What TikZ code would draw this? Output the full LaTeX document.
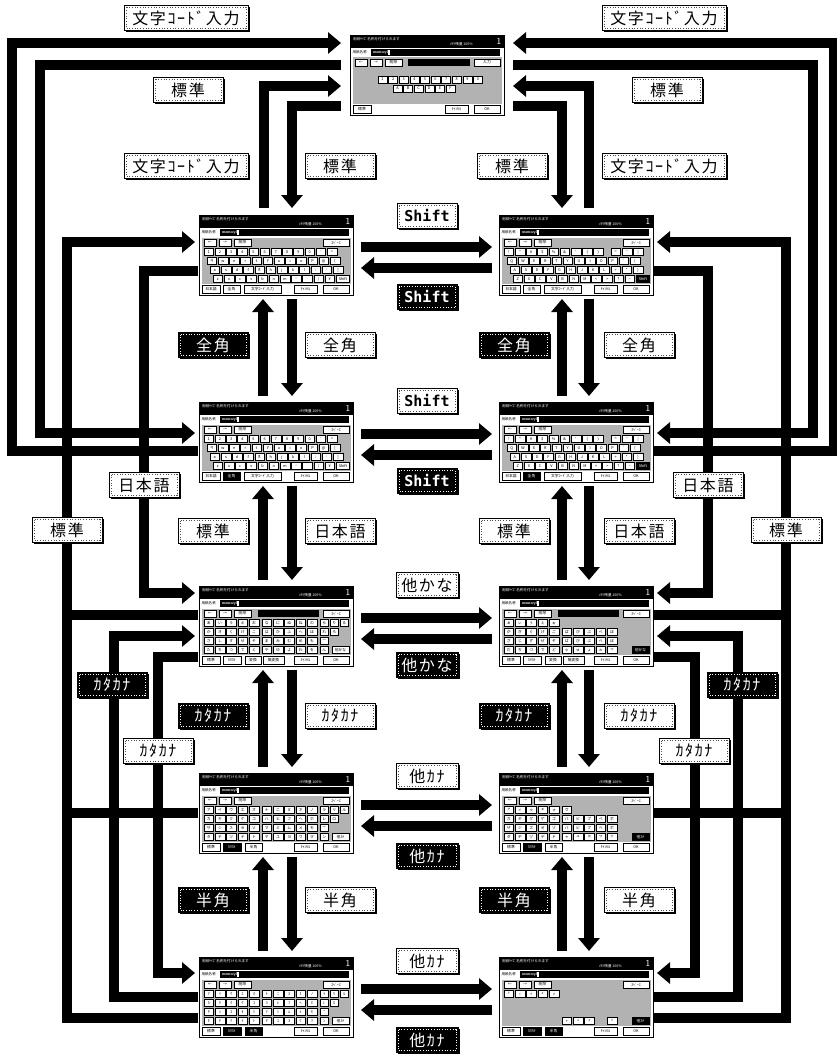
\documentclass[tikz,border=0pt]{standalone}
\usepackage{fontspec}
\newfontfamily\jp{Noto Sans CJK JP}
\newfontfamily\jpl{Noto Sans CJK JP}[LetterSpace=10]
\newfontfamily\monob{DejaVu Sans Mono}
\usetikzlibrary{arrows.meta,calc,shadows}
\newcount\autok
\tikzset{
 autoname/.style={/utils/exec={\global\advance\autok by 1}, name=n\the\autok},
 key/.style={autoname, draw=black, line width=0.4pt, fill=white, text=black, minimum width=9.5pt, minimum height=7pt, inner sep=0pt, outer sep=0pt, anchor=north west, font=\jp\fontsize{3.8}{3.8}\selectfont},
 keyb/.style={key, fill=black, text=white},
 tx/.style={autoname, inner sep=0pt, outer sep=0pt, font=\jp\fontsize{3.6}{3.6}\selectfont},
 scrbox/.style={minimum width=154pt, minimum height=80pt, inner sep=0pt, outer sep=0pt, anchor=north west},
 conn/.style={draw=black, line width=10pt, line join=miter},
 arr/.style={conn, -{Triangle[width=21pt,length=13pt]}},
 lab/.style={autoname, draw=black, line width=0.9pt, minimum width=70pt, minimum height=25pt, inner sep=0pt, font=\jpl\fontsize{16}{16}\selectfont, drop shadow={shadow xshift=1.8pt, shadow yshift=-1.8pt, opacity=1, fill=black}},
 lw/.style={lab, fill=white, text=black, path picture={\draw[dotted, line width=0.7pt, black!70] ([xshift=2pt,yshift=-2pt]path picture bounding box.north west) rectangle ([xshift=-2pt,yshift=2pt]path picture bounding box.south east);}},
 lb/.style={lab, fill=black, text=white, path picture={\draw[dotted, line width=0.7pt, white] ([xshift=2pt,yshift=-2pt]path picture bounding box.north west) rectangle ([xshift=-2pt,yshift=2pt]path picture bounding box.south east);}},
 shiftlab/.style={minimum width=60pt, font=\monob\bfseries\fontsize{15}{15}\selectfont},
}
\newcommand\krow[5][9.5]{\foreach \kk [count=\ii from 0] in {#5}{\node[key, minimum width=#1pt] at ({#3+\ii*#4},#2) {\kk};}}
\newcommand\btn[4][key]{\node[#1, minimum width=#3pt, minimum height=7.5pt] at (#2,70.5) {#4};}
\newcommand\scrframe{%
 \draw[line width=0.9pt, fill=white] (0,0) rectangle (154,80);
 \fill[black!30] (2.5,22.5) rectangle (151.5,69);
 \fill[black] (0,0) rectangle (154,13);
 \node[tx, text=white, anchor=west] at (3,4) {用紙ｻｲｽﾞ名称を付けられます};
 \node[tx, text=white, anchor=west] at (100,9.5) {ﾒﾓﾘ残量\ 100\%};
 \node[tx, text=white, font=\sffamily\fontsize{9}{9}\selectfont] at (149,6.5) {1};
 \node[tx, anchor=west] at (2.5,17.5) {用紙名称};
 \fill[black] (21,14) rectangle (150,21);
 \node[tx, text=white, anchor=west, font=\sffamily\bfseries\fontsize{3.8}{3.8}\selectfont] at (23,17.5) {memory1};
 \fill[white] (38,14.8) rectangle (40,20.2);
 \node[key, minimum width=12pt] at (5,24) {←};
 \node[key, minimum width=12pt] at (20,24) {→};
 \node[key, minimum width=17pt] at (35,24) {削除};
}
\newcommand\screen[4]{\node[scrbox, name=#1] at (#2,#3) {};\begin{scope}[shift={(#2,#3)}]\scrframe #4\end{scope}}
\newcommand\spacekey{\node[key, minimum width=26pt] at (124,24) {ｽﾍﾟｰｽ};}
\newcommand\shiftkey[1]{\node[#1, minimum width=13pt] at (137.5,60.5) {Shift};}
\newcommand\alower{%
 \krow{33.5}{5}{11.2}{1,2,3,4,5,6,7,8,9,0,-,\textasciicircum}%
 \krow{42.5}{8}{11.2}{q,w,e,r,t,y,u,i,o,p,@,{[}}%
 \krow{51.5}{11}{11.2}{a,s,d,f,g,h,j,k,l,;,:,{]}}%
 \krow{60.5}{14}{11.2}{z,x,c,v,b,n,m,{,},.,{/},¥}}
\newcommand\aupper{%
 \krow{33.5}{5}{11.2}{!,",\#,\$,\%,\&,',{(},{)}}%
 \krow{33.5}{112}{11.2}{=,\textasciitilde,|}%
 \krow{42.5}{8}{11.2}{Q,W,E,R,T,Y,U,I,O,P,`,\{}%
 \krow{51.5}{11}{11.2}{A,S,D,F,G,H,J,K,L,+,*,\}}%
 \krow{60.5}{14}{11.2}{Z,X,C,V,B,N,M,<,>,?,\_}}
\newcommand\abottom[1]{\btn{3}{18}{日本語}\btn[#1]{24}{17}{全角}\btn{45}{37}{文字ｺｰﾄﾞ入力}\btn{95}{23}{ｷｬﾝｾﾙ}\btn{124}{26}{OK}}
\newcommand\kanabottom{\btn{3}{18}{標準}\btn{24}{18}{ｶﾀｶﾅ}\btn{46}{16}{変換}\btn{64}{21}{無変換}\btn{95}{23}{ｷｬﾝｾﾙ}\btn{124}{26}{OK}}
\newcommand\katabottom[1]{\btn{3}{18}{標準}\btn[keyb]{24}{18}{ｶﾀｶﾅ}\btn[#1]{46}{17}{半角}\btn{95}{23}{ｷｬﾝｾﾙ}\btn{124}{26}{OK}}
\begin{document}
\begin{tikzpicture}[x=1pt,y=-1pt]
\useasboundingbox (0,0) rectangle (837,1054);
\clip (0,0) rectangle (837,1054);
% ---------------- screens
\screen{S0}{350}{35}{\fill[black] (58,24) rectangle (120,31); \node[key, minimum width=26pt] at (124,24) {入力};
 \krow[9]{41}{28}{10.6}{1,2,3,4,5,6,7,8,9,0}\krow[9]{50}{43}{10.6}{A,B,C,D,E,F}
 \btn{3}{18}{標準}\btn{95}{23}{ｷｬﾝｾﾙ}\btn{124}{26}{OK}}
\screen{L1}{199}{215}{\spacekey\alower\shiftkey{key}\abottom{key}}
\screen{R1}{499}{215}{\spacekey\aupper\shiftkey{keyb}\abottom{key}}
\screen{L2}{199}{402}{\spacekey\alower\shiftkey{key}\abottom{keyb}}
\screen{R2}{499}{402}{\spacekey\aupper\shiftkey{keyb}\abottom{keyb}}
\screen{L3}{199}{586}{\fill[black] (59,24) rectangle (120,31);\spacekey
 \krow{33.5}{5}{11.3}{あ,い,う,え,お}\krow{33.5}{63}{11.3}{な,に,ぬ,ね,の}\krow[8.5]{33.5}{121}{10}{ら,り,る}
 \krow{42.5}{5}{11.3}{か,き,く,け,こ}\krow{42.5}{63}{11.3}{は,ひ,ふ,へ,ほ}\krow[8.5]{42.5}{121}{10}{れ,ろ}
 \krow{51.5}{5}{11.3}{さ,し,す,せ,そ}\krow{51.5}{63}{11.3}{ま,み,む,め,も}\krow[8.5]{51.5}{121}{10}{ー}
 \krow{60.5}{5}{11.3}{た,ち,つ,て,と}\krow{60.5}{63}{11.3}{や,ゆ,よ,わ,を}\krow[8.5]{60.5}{121}{10}{ん}
 \node[key, minimum width=17pt] at (133,60.5) {他かな};\kanabottom}
\screen{R3}{499}{586}{\fill[black] (59,24) rectangle (120,31);\spacekey
 \krow{33.5}{5}{11.3}{ぁ,ぃ,ぅ,ぇ,ぉ}
 \krow{42.5}{5}{11.3}{が,ぎ,ぐ,げ,ご}\krow{42.5}{63}{11.3}{ば,び,ぶ,べ,ぼ}
 \krow{51.5}{5}{11.3}{ざ,じ,ず,ぜ,ぞ}\krow{51.5}{63}{11.3}{ぱ,ぴ,ぷ,ぺ,ぽ}
 \krow{60.5}{5}{11.3}{だ,ぢ,づ,で,ど}\krow{60.5}{63}{11.3}{ゃ,ゅ,ょ,ゎ,っ}
 \node[keyb, minimum width=17pt] at (133,60.5) {他かな};\kanabottom}
\screen{L4}{199}{773}{\spacekey
 \krow{33.5}{5}{11.3}{ア,イ,ウ,エ,オ}\krow{33.5}{63}{11.3}{ナ,ニ,ヌ,ネ,ノ}\krow[8.5]{33.5}{121}{10}{ラ,リ,ル}
 \krow{42.5}{5}{11.3}{カ,キ,ク,ケ,コ}\krow{42.5}{63}{11.3}{ハ,ヒ,フ,ヘ,ホ}\krow[8.5]{42.5}{121}{10}{レ,ロ}
 \krow{51.5}{5}{11.3}{サ,シ,ス,セ,ソ}\krow{51.5}{63}{11.3}{マ,ミ,ム,メ,モ}\krow[8.5]{51.5}{121}{10}{ー}
 \krow{60.5}{5}{11.3}{タ,チ,ツ,テ,ト}\krow{60.5}{63}{11.3}{ヤ,ユ,ヨ,ワ,ヲ}\krow[8.5]{60.5}{121}{10}{ン}
 \node[key, minimum width=17pt] at (133,60.5) {他ｶﾅ};\katabottom{key}}
\screen{R4}{499}{773}{\spacekey
 \krow{33.5}{5}{11.3}{ァ,ィ,ゥ,ェ,ォ}\krow{33.5}{63}{11.3}{ヴ}
 \krow{42.5}{5}{11.3}{ガ,ギ,グ,ゲ,ゴ}\krow{42.5}{63}{11.3}{バ,ビ,ブ,ベ,ボ}
 \krow{51.5}{5}{11.3}{ザ,ジ,ズ,ゼ,ゾ}\krow{51.5}{63}{11.3}{パ,ピ,プ,ペ,ポ}
 \krow{60.5}{5}{11.3}{ダ,ヂ,ヅ,デ,ド}\krow{60.5}{63}{11.3}{ャ,ュ,ョ,ヮ,ッ}
 \node[keyb, minimum width=17pt] at (133,60.5) {他ｶﾅ};\katabottom{key}}
\screen{L5}{199}{957}{\spacekey
 \krow{33.5}{5}{11.3}{ｱ,ｲ,ｳ,ｴ,ｵ}\krow{33.5}{63}{11.3}{ﾅ,ﾆ,ﾇ,ﾈ,ﾉ}\krow[8.5]{33.5}{121}{10}{ﾗ,ﾘ,ﾙ}
 \krow{42.5}{5}{11.3}{ｶ,ｷ,ｸ,ｹ,ｺ}\krow{42.5}{63}{11.3}{ﾊ,ﾋ,ﾌ,ﾍ,ﾎ}\krow[8.5]{42.5}{121}{10}{ﾚ,ﾛ}
 \krow{51.5}{5}{11.3}{ｻ,ｼ,ｽ,ｾ,ｿ}\krow{51.5}{63}{11.3}{ﾏ,ﾐ,ﾑ,ﾒ,ﾓ}\krow[8.5]{51.5}{121}{10}{ｰ}
 \krow{60.5}{5}{11.3}{ﾀ,ﾁ,ﾂ,ﾃ,ﾄ}\krow{60.5}{63}{11.3}{ﾔ,ﾕ,ﾖ,ﾜ,ｦ}\krow[8.5]{60.5}{121}{10}{ﾝ}
 \node[key, minimum width=17pt] at (133,60.5) {他ｶﾅ};\katabottom{keyb}}
\screen{R5}{499}{957}{\spacekey
 \krow{33.5}{5}{11.3}{ｧ,ｨ,ｩ,ｪ,ｫ}
 \krow{60.5}{63}{11.3}{ｬ,ｭ,ｮ}\krow{60.5}{108.2}{11.3}{ｯ}
 \node[keyb, minimum width=17pt] at (133,60.5) {他ｶﾅ};\katabottom{keyb}}
% ---------------- left connectors
\draw[arr] ($(L2.north west)+(-1,49)$) -| (12,43) -- ($(S0.north west)+(-9,8)$);
\draw[arr] ($(S0.north west)+(-9,30)$) -| (40,433) -- ($(L2.north west)+(-4,31)$);
\draw[arr] ($(L1.north west)+(65,-7)$) |- ($(S0.north west)+(-9,51)$);
\draw[arr] ($(S0.north west)+(-9,71)$) -| ($(L1.north west)+(93,-7)$);
\draw[arr] ($(L5.north west)+(-1,61)$) -| (67,242) -- ($(L1.north west)+(-4,27)$);
\draw[conn] ($(L3.north west)+(-1,29)$) -- (62,615);
\draw[conn] ($(L4.north west)+(-1,40)$) -- (62,813);
\draw[arr] ($(L1.north west)+(-1,56)$) -| (144,593) -- ($(L3.north west)+(-4,7)$);
\draw[arr] ($(L5.north west)+(-1,40)$) -| (114,636) -- ($(L3.north west)+(-4,50)$);
\draw[arr] ($(L3.north west)+(-1,71)$) -| (158,973) -- ($(L5.north west)+(-4,16)$);
% ---------------- right connectors
\draw[arr] ($(R2.north east)+(1,49)$) -| (834,43) -- ($(S0.north east)+(9,8)$);
\draw[arr] ($(S0.north east)+(9,30)$) -| (813,433) -- ($(R2.north east)+(4,31)$);
\draw[arr] ($(R1.north west)+(90,-7)$) |- ($(S0.north east)+(9,51)$);
\draw[arr] ($(S0.north east)+(9,71)$) -| ($(R1.north west)+(63,-7)$);
\draw[arr] ($(R5.north east)+(1,61)$) -| (786,242) -- ($(R1.north east)+(4,27)$);
\draw[conn] ($(R3.north east)+(1,29)$) -- (791,615);
\draw[conn] ($(R4.north east)+(1,40)$) -- (791,813);
\draw[arr] ($(R1.north east)+(1,56)$) -| (708,593) -- ($(R3.north east)+(4,7)$);
\draw[arr] ($(R5.north east)+(1,40)$) -| (738,636) -- ($(R3.north east)+(4,50)$);
\draw[arr] ($(R3.north east)+(1,71)$) -| (695,973) -- ($(R5.north east)+(4,16)$);
% ---------------- middle and column arrows
\foreach \r in {1,2,3,4,5}{
 \draw[arr] ($(L\r.north east)+(8,32)$) -- ($(R\r.north west)+(-7,32)$);
 \draw[arr] ($(R\r.north west)+(-7,53)$) -- ($(L\r.north east)+(8,53)$);
}
\foreach \a/\b in {1/2,2/3,3/4,4/5}{
 \draw[arr] ($(L\b.north west)+(64,-6)$) -- ($(L\a.south west)+(64,4)$);
 \draw[arr] ($(L\a.south west)+(93,4)$) -- ($(L\b.north west)+(93,-6)$);
 \draw[arr] ($(R\b.north west)+(63,-6)$) -- ($(R\a.south west)+(63,4)$);
 \draw[arr] ($(R\a.south west)+(90,4)$) -- ($(R\b.north west)+(90,-6)$);
}
% ---------------- labels
\node[lw, minimum width=124pt] at (186,18) {文字ｺｰﾄﾞ入力};
\node[lw, minimum width=124pt] at (664,18) {文字ｺｰﾄﾞ入力};
\node[lw] at (188,90) {標準};
\node[lw] at (667,90) {標準};
\node[lw, minimum width=124pt] at (186,166) {文字ｺｰﾄﾞ入力};
\node[lw] at (340,166) {標準};
\node[lw] at (512,166) {標準};
\node[lw, minimum width=124pt] at (664,166) {文字ｺｰﾄﾞ入力};
\node[lw, shiftlab] at (427,216) {Shift};
\node[lb, shiftlab] at (427,297) {Shift};
\node[lw, shiftlab] at (427,401) {Shift};
\node[lb, shiftlab] at (427,481) {Shift};
\node[lw, minimum width=62pt] at (427,585) {他かな};
\node[lb, minimum width=62pt] at (427,665) {他かな};
\node[lw, minimum width=62pt] at (427,776) {他ｶﾅ};
\node[lb, minimum width=62pt] at (427,856) {他ｶﾅ};
\node[lw, minimum width=62pt] at (427,961) {他ｶﾅ};
\node[lb, minimum width=62pt] at (427,1040) {他ｶﾅ};
\node[lb] at (213,345) {全角};
\node[lw] at (340,345) {全角};
\node[lb] at (514,345) {全角};
\node[lw] at (639,345) {全角};
\node[lw] at (213,531) {標準};
\node[lw] at (340,531) {日本語};
\node[lw] at (514,531) {標準};
\node[lw] at (639,531) {日本語};
\node[lb] at (213,716) {ｶﾀｶﾅ};
\node[lw] at (340,716) {ｶﾀｶﾅ};
\node[lb] at (514,716) {ｶﾀｶﾅ};
\node[lw] at (639,716) {ｶﾀｶﾅ};
\node[lb] at (213,900) {半角};
\node[lw] at (340,900) {半角};
\node[lb] at (514,900) {半角};
\node[lw] at (639,900) {半角};
\node[lw] at (144,485) {日本語};
\node[lw] at (708,485) {日本語};
\node[lw] at (67,530) {標準};
\node[lw] at (786,530) {標準};
\node[lb] at (112,685) {ｶﾀｶﾅ};
\node[lb] at (742,685) {ｶﾀｶﾅ};
\node[lw] at (158,751) {ｶﾀｶﾅ};
\node[lw] at (694,751) {ｶﾀｶﾅ};
\end{tikzpicture}
\end{document}
